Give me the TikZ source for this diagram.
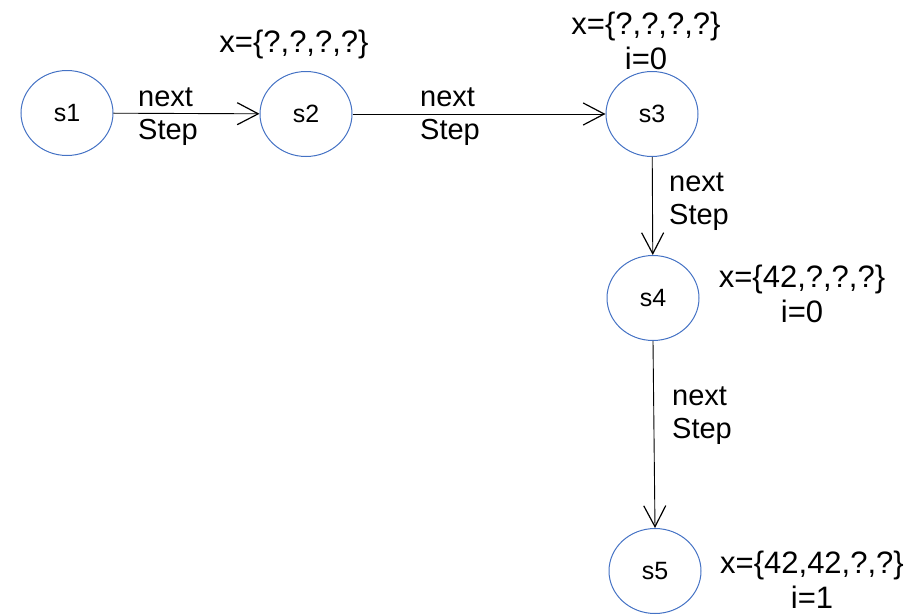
\documentclass[tikz,border=0pt]{standalone}
\usepackage{fontspec}
\setmainfont{Liberation Sans}
\usetikzlibrary{shapes.geometric,arrows.meta}
\definecolor{statecol}{RGB}{68,114,196}
\begin{document}
\begin{tikzpicture}[x=1pt,y=-1pt,
  state/.style={draw=statecol, line width=1pt, ellipse, minimum width=92pt, minimum height=85pt, inner sep=0pt, font=\fontsize{25}{30}\selectfont},
  trans/.style={draw=black, line width=0.9pt, -{Straight Barb[length=21pt,width=22pt,line width=1.2pt]}},
  lbl/.style={anchor=west, align=left, inner sep=0pt, font=\fontsize{29}{33}\selectfont},
  note/.style={align=center, inner sep=0pt, font=\fontsize{31}{35}\selectfont}]
\useasboundingbox (0,0) rectangle (914,616);
% states
\node[state] (s1) at (67,113) {s1};
\node[state] (s2) at (306,114) {s2};
\node[state] (s3) at (652,114) {s3};
\node[state] (s4) at (653,298) {s4};
\node[state] (s5) at (655,571) {s5};
% transitions
\draw[trans] (s1) -- (s2);
\draw[trans] (s2) -- (s3);
\draw[trans] (s3) -- (s4);
\draw[trans] (s4.south) -- (s5.north);
% transition labels
\node[lbl] (l12) at (138,117) {next\\Step};
\node[lbl] (l23) at (420,117) {next\\Step};
\node[lbl] (l34) at (669,202) {next\\Step};
\node[lbl] (l45) at (672,416) {next\\Step};
% variable annotations
\node[note] (n2) at (294,44) {x=\{?,?,?,?\}};
\node[note] (n3) at (646,41) {x=\{?,?,?,?\}\\i=0};
\node[note] (n4) at (802,294) {x=\{42,?,?,?\}\\i=0};
\node[note] (n5) at (812,580) {x=\{42,42,?,?\}\\i=1};
\end{tikzpicture}
\end{document}
